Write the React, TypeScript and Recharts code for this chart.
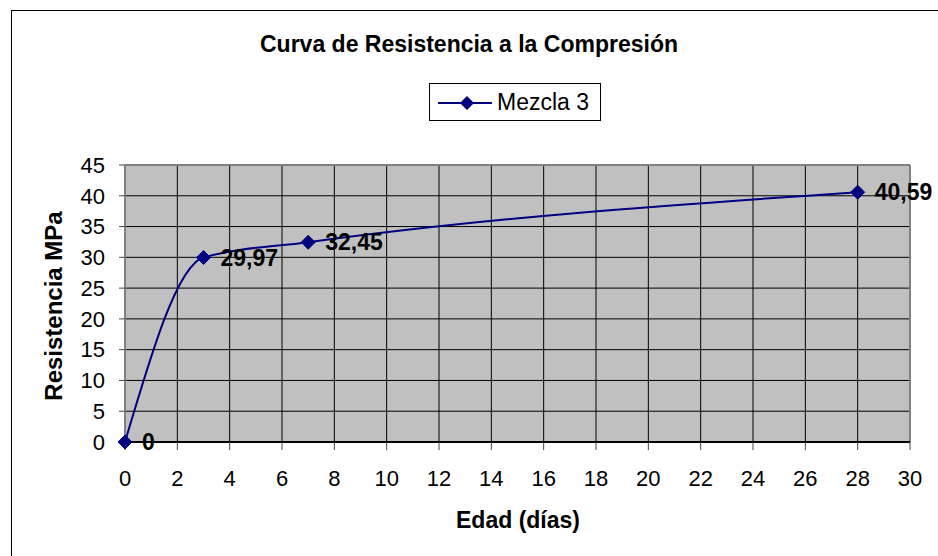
import React from "react";
import {
  LineChart,
  Line,
  XAxis,
  YAxis,
  CartesianGrid,
  Legend,
  LabelList,
  ReferenceLine,
  Label,
} from "recharts";

const edadDias = [0, 3, 7, 28];
const resistencia = [0, 29.97, 32.45, 40.59];
const xTicks = [0, 2, 4, 6, 8, 10, 12, 14, 16, 18, 20, 22, 24, 26, 28, 30];
const yTicks = [0, 5, 10, 15, 20, 25, 30, 35, 40, 45];
const seriesName = "Mezcla 3";
const title = "Curva de Resistencia a la Compresión";
const xLabel = "Edad (días)";
const yLabel = "Resistencia MPa";

const data = edadDias.map((d, i) => ({ edad: d, valor: resistencia[i] }));

const FONT = "'Liberation Sans', Arial, sans-serif";
const NAVY = "#000080";

const Diamond = (props: any) => {
  const { cx, cy } = props;
  if (cx == null || cy == null) return null;
  const s = 7;
  return (
    <polygon
      points={`${cx},${cy - s} ${cx + s},${cy} ${cx},${cy + s} ${cx - s},${cy}`}
      fill={NAVY}
      stroke={NAVY}
    />
  );
};

const LegendBox = () => (
  <div
    style={{
      width: 170,
      height: 36,
      border: "1px solid #000",
      background: "#fff",
      position: "relative",
      fontFamily: FONT,
    }}
  >
    <svg width={62} height={36} style={{ position: "absolute", left: 0, top: 0 }}>
      <line x1={8} y1={19} x2={62} y2={19} stroke={NAVY} strokeWidth={2} />
      <polygon points="37,12 44,19 37,26 30,19" fill={NAVY} />
    </svg>
    <span
      style={{
        position: "absolute",
        left: 67,
        top: 4,
        fontSize: 23,
        lineHeight: "28px",
        color: "#000",
        whiteSpace: "nowrap",
      }}
    >
      {seriesName}
    </span>
  </div>
);

const fmt = (v: any) => String(v).replace(".", ",");

export default function App() {
  return (
    <div
      style={{
        position: "absolute",
        left: 0,
        top: 0,
        width: 938,
        height: 556,
        overflow: "hidden",
        background: "#fff",
        fontFamily: FONT,
      }}
    >
      <div
        style={{
          position: "absolute",
          left: 11,
          top: 10,
          width: 1000,
          height: 1000,
          border: "1px solid #000",
        }}
      />
      <div
        style={{
          position: "absolute",
          left: 0,
          width: 938,
          top: 31,
          textAlign: "center",
          fontSize: 23,
          fontWeight: "bold",
          lineHeight: "26px",
          color: "#000",
        }}
      >
        {title}
      </div>
      <div style={{ position: "absolute", left: 0, top: 0 }}>
        <LineChart
          width={938}
          height={556}
          data={data}
          margin={{ top: 165, right: 28, bottom: 24, left: 30 }}
        >
          <CartesianGrid
            stroke="#000"
            strokeWidth={1}
            fill="#C0C0C0"
            fillOpacity={1}
            horizontalValues={yTicks}
            verticalValues={xTicks}
          />
          <XAxis
            dataKey="edad"
            type="number"
            domain={[0, 30]}
            ticks={xTicks}
            interval={0}
            height={90}
            tickSize={8}
            tickMargin={20}
            axisLine={{ stroke: "#000", strokeWidth: 2 }}
            tickLine={{ stroke: "#444" }}
            tick={{ fill: "#000", fontSize: 22, fontFamily: FONT }}
          >
            <Label
              content={() => (
                <text
                  x={518}
                  y={528}
                  textAnchor="middle"
                  fontSize={23}
                  fontWeight="bold"
                  fontFamily={FONT}
                  fill="#000"
                >
                  {xLabel}
                </text>
              )}
            />
          </XAxis>
          <YAxis
            type="number"
            domain={[0, 45]}
            ticks={yTicks}
            interval={0}
            width={95}
            tickSize={6}
            tickMargin={14}
            axisLine={{ stroke: "#808080", strokeWidth: 2 }}
            tickLine={{ stroke: "#444" }}
            tick={{ fill: "#000", fontSize: 22, fontFamily: FONT }}
          >
            <Label
              content={() => (
                <text
                  x={62}
                  y={306}
                  transform="rotate(-90 62 306)"
                  textAnchor="middle"
                  fontSize={24}
                  fontWeight="bold"
                  fontFamily={FONT}
                  fill="#000"
                >
                  {yLabel}
                </text>
              )}
            />
          </YAxis>
          <ReferenceLine y={45} stroke="#808080" strokeWidth={2} />
          <ReferenceLine x={30} stroke="#808080" strokeWidth={2} />
          <Legend
            layout="vertical"
            verticalAlign="middle"
            align="center"
            content={() => <LegendBox />}
            wrapperStyle={{ position: "absolute", top: 83, left: 429, width: 172 }}
          />
          <Line
            type="monotone"
            dataKey="valor"
            name={seriesName}
            stroke={NAVY}
            strokeWidth={2}
            dot={<Diamond />}
            activeDot={false}
            isAnimationActive={false}
          >
            <LabelList
              dataKey="valor"
              position="right"
              offset={17}
              formatter={fmt}
              style={{ fontSize: 23, fontWeight: "bold", fontFamily: FONT, fill: "#000" }}
            />
          </Line>
        </LineChart>
      </div>
    </div>
  );
}
